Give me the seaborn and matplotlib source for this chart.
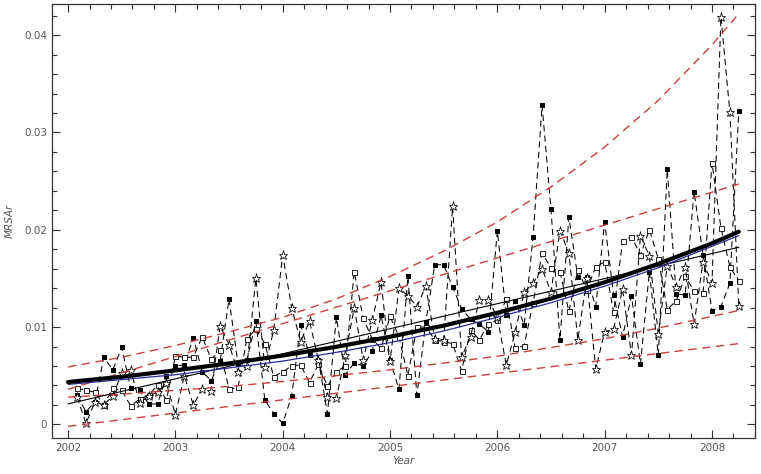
import numpy as np
import pandas as pd
import matplotlib
matplotlib.use('Agg')
import matplotlib.pyplot as plt
import seaborn as sns
from matplotlib.ticker import MultipleLocator, FuncFormatter

# monthly observations, Feb 2002 .. Apr 2008
month_index = np.arange(1, 76)
year = 2002 + month_index / 12

filled_sq = [0.0030, 0.0013, 0.0023, 0.0069, 0.0056, 0.0079, 0.0037, 0.0035, 0.0021, 0.0021,
             0.0050, 0.0060, 0.0061, 0.0089, 0.0054, 0.0045, 0.0065, 0.0129, 0.0062, 0.0066,
             0.0106, 0.0025, 0.0011, 0.0001, 0.0029, 0.0102, 0.0071, 0.0066, 0.0011, 0.0110,
             0.0051, 0.0063, 0.0060, 0.0075, 0.0112, 0.0066, 0.0036, 0.0152, 0.0030, 0.0105,
             0.0164, 0.0164, 0.0141, 0.0119, 0.0108, 0.0103, 0.0095, 0.0199, 0.0112, 0.0127,
             0.0102, 0.0193, 0.0328, 0.0221, 0.0087, 0.0213, 0.0151, 0.0151, 0.0121, 0.0208,
             0.0133, 0.0090, 0.0132, 0.0062, 0.0157, 0.0071, 0.0262, 0.0134, 0.0133, 0.0239,
             0.0174, 0.0117, 0.0121, 0.0145, 0.0322]
open_sq = [0.0037, 0.0035, 0.0033, 0.0020, 0.0037, 0.0035, 0.0019, 0.0026, 0.0030, 0.0040,
           0.0025, 0.0070, 0.0069, 0.0069, 0.0090, 0.0067, 0.0076, 0.0036, 0.0038, 0.0088,
           0.0098, 0.0083, 0.0049, 0.0054, 0.0060, 0.0061, 0.0043, 0.0062, 0.0039, 0.0054,
           0.0060, 0.0157, 0.0109, 0.0088, 0.0078, 0.0111, 0.0090, 0.0050, 0.0100, 0.0100,
           0.0087, 0.0085, 0.0083, 0.0055, 0.0097, 0.0087, 0.0103, 0.0107, 0.0129, 0.0078,
           0.0081, 0.0125, 0.0176, 0.0161, 0.0157, 0.0116, 0.0159, 0.0138, 0.0162, 0.0167,
           0.0115, 0.0188, 0.0193, 0.0174, 0.0200, 0.0170, 0.0118, 0.0127, 0.0152, 0.0137,
           0.0135, 0.0269, 0.0202, 0.0162, 0.0147]
stars = [0.0028, 0.0001, 0.0023, 0.0020, 0.0029, 0.0053, 0.0056, 0.0022, 0.0029, 0.0033,
         0.0042, 0.0010, 0.0050, 0.0020, 0.0036, 0.0034, 0.0101, 0.0082, 0.0054, 0.0060,
         0.0150, 0.0059, 0.0097, 0.0174, 0.0120, 0.0085, 0.0106, 0.0066, 0.0028, 0.0027,
         0.0071, 0.0120, 0.0066, 0.0107, 0.0146, 0.0065, 0.0140, 0.0132, 0.0121, 0.0142,
         0.0088, 0.0087, 0.0224, 0.0069, 0.0090, 0.0128, 0.0128, 0.0110, 0.0061, 0.0095,
         0.0136, 0.0145, 0.0160, 0.0136, 0.0199, 0.0176, 0.0087, 0.0150, 0.0057, 0.0095,
         0.0098, 0.0139, 0.0071, 0.0194, 0.0173, 0.0093, 0.0163, 0.0141, 0.0162, 0.0103,
         0.0167, 0.0145, 0.0419, 0.0321, 0.0122]

# fitted curves, read at half-year knots
fit_year = [2002, 2002.5, 2003, 2003.5, 2004, 2004.5, 2005, 2005.5, 2006, 2006.5,
            2007, 2007.5, 2008, 2008.25]
exp_fit = [0.00435, 0.00489, 0.00555, 0.00626, 0.00707, 0.00797, 0.0090, 0.01015, 0.01146,
           0.01293, 0.0146, 0.0165, 0.0186, 0.0198]
blue_fit = [0.0041, 0.0046, 0.0051, 0.0058, 0.0065, 0.0074, 0.0084, 0.0096, 0.0110,
            0.0125, 0.0142, 0.0161, 0.0183, 0.0194]
exp_upper = [0.0059, 0.0069, 0.0081, 0.0095, 0.0110, 0.0129, 0.0152, 0.0178, 0.0208,
             0.0244, 0.0285, 0.0333, 0.0390, 0.0422]
exp_lower = [0.0028, 0.0031, 0.0035, 0.0039, 0.0044, 0.0050, 0.0056, 0.0063, 0.0070,
             0.0079, 0.0088, 0.0099, 0.0111, 0.0117]
lin_year = [2002, 2008.25]
lin_fit = [0.0021, 0.0182]
lin_upper = [0.0036, 0.0247]
lin_lower = [-0.0002, 0.0083]

sns.set_style('ticks')
plt.rcParams['font.family'] = ['DejaVu Sans']
grey = '#555555'

fig = plt.figure(figsize=(7.61, 4.74), dpi=100)
ax = fig.add_axes([0.0683, 0.076, 0.9237, 0.9156])

dash = (0, (6, 4))
sns.lineplot(x=year, y=filled_sq, ax=ax, color='black', lw=0.75, linestyle=dash,
             marker='s', markersize=2.4, markerfacecolor='black', markeredgecolor='black',
             errorbar=None, sort=False)
sns.lineplot(x=year, y=open_sq, ax=ax, color='black', lw=0.75, linestyle=dash,
             marker='s', markersize=3.6, markerfacecolor='white', markeredgecolor='black',
             markeredgewidth=0.6, errorbar=None, sort=False)
sns.lineplot(x=year, y=stars, ax=ax, color='black', lw=0.75, linestyle=dash,
             marker='*', markersize=6.5, markerfacecolor='white', markeredgecolor='black',
             markeredgewidth=0.55, errorbar=None, sort=False)

red = '#cc3f3f'
rdash = (0, (6, 4))
for yy in (exp_upper, exp_lower):
    sns.lineplot(x=fit_year, y=yy, ax=ax, color=red, lw=1.0, linestyle=rdash,
                 errorbar=None, sort=False)
for yy in (lin_upper, lin_lower):
    sns.lineplot(x=lin_year, y=yy, ax=ax, color=red, lw=1.0, linestyle=rdash,
                 errorbar=None, sort=False)

sns.lineplot(x=lin_year, y=lin_fit, ax=ax, color='black', lw=0.8, errorbar=None)
sns.lineplot(x=fit_year, y=blue_fit, ax=ax, color='#2b2b9a', lw=0.9, errorbar=None)
sns.lineplot(x=fit_year, y=exp_fit, ax=ax, color='black', lw=3.0, errorbar=None)

ax.set_xlim(2001.85, 2008.4)
ax.set_ylim(-0.0014, 0.0432)
ax.xaxis.set_major_locator(MultipleLocator(1))
ax.xaxis.set_minor_locator(MultipleLocator(0.2))
ax.yaxis.set_major_locator(MultipleLocator(0.01))
ax.yaxis.set_minor_locator(MultipleLocator(0.002))
ax.xaxis.set_major_formatter(FuncFormatter(lambda v, p: '%d' % round(v)))
ax.yaxis.set_major_formatter(FuncFormatter(lambda v, p: '%g' % round(v, 4)))
ax.tick_params(which='both', direction='in', top=True, right=True,
               colors='#333333', labelcolor=grey, labelsize=7.5, width=0.8)
ax.tick_params(which='major', length=6)
ax.tick_params(which='minor', length=3.5)
for s in ax.spines.values():
    s.set_color('#333333')
    s.set_linewidth(0.9)
ax.set_xlabel('Year', style='italic', color=grey, fontsize=7.5, labelpad=2)
ax.set_ylabel('MRSAr', style='italic', color=grey, fontsize=7.5, labelpad=7)

fig.savefig('out.png', dpi=100)
